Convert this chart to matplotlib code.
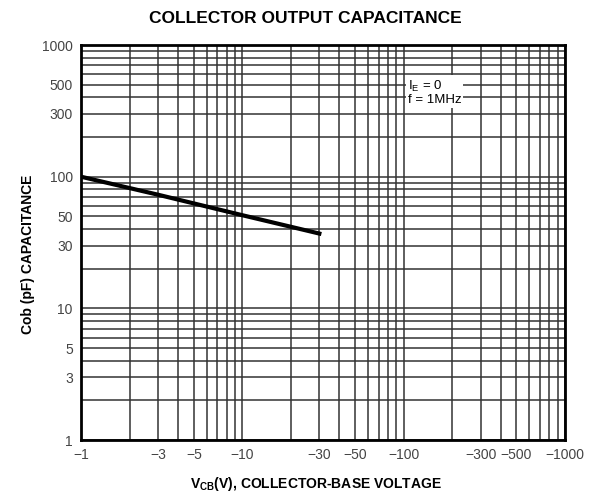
import matplotlib
matplotlib.use("Agg")
import matplotlib.pyplot as plt
from matplotlib.ticker import FixedLocator, LogLocator, NullFormatter, FixedFormatter

plt.rcParams['font.family'] = ['Liberation Sans', 'DejaVu Sans']
plt.rcParams['mathtext.fontset'] = 'custom'
plt.rcParams['mathtext.rm'] = 'Liberation Sans'
plt.rcParams['mathtext.bf'] = 'Liberation Sans:bold'

# data
vcb = [1, 3, 10, 30]
cob = [100, 73, 51, 37]
x_ticks = [1, 3, 5, 10, 30, 50, 100, 300, 500, 1000]
x_labels = ["\u22121", "\u22123", "\u22125", "\u221210", "\u221230", "\u221250", "\u2212100", "\u2212300", "\u2212500", "\u22121000"]
y_ticks = [1, 3, 5, 10, 30, 50, 100, 300, 500, 1000]
y_labels = ["1", "3", "5", "10", "30", "50", "100", "300", "500", "1000"]

fig = plt.figure(figsize=(6.02, 4.95), dpi=100)
ax = fig.add_axes([0.1346, 0.111, 0.804, 0.798])
ax.set_xscale('log')
ax.set_yscale('log')
ax.set_xlim(1, 1000)
ax.set_ylim(1, 1000)

ax.plot(vcb, cob, color='black', lw=3)

ax.xaxis.set_major_locator(FixedLocator(x_ticks))
ax.xaxis.set_major_formatter(FixedFormatter(x_labels))
ax.yaxis.set_major_locator(FixedLocator(y_ticks))
ax.yaxis.set_major_formatter(FixedFormatter(y_labels))
ax.xaxis.set_minor_locator(LogLocator(base=10, subs=range(1, 10), numticks=20))
ax.yaxis.set_minor_locator(LogLocator(base=10, subs=range(1, 10), numticks=20))
ax.xaxis.set_minor_formatter(NullFormatter())
ax.yaxis.set_minor_formatter(NullFormatter())
ax.grid(True, which='both', color='#333333', lw=1.1)
ax.tick_params(which='both', length=0, labelsize=10, colors='#444444', pad=6)
for s in ax.spines.values():
    s.set_linewidth(2)
    s.set_color('black')

ax.text(0.675, 0.915, "I$_\\mathrm{E}$ = 0\nf = 1MHz", transform=ax.transAxes, fontsize=9.5,
        va='top', ha='left', linespacing=1.05,
        bbox=dict(facecolor='white', edgecolor='none', pad=1.5))

fig.text(0.507, 0.962, "COLLECTOR OUTPUT CAPACITANCE", ha='center', va='center',
         fontsize=12.5, fontweight='bold')
fig.text(0.525, 0.022, "V$_\\mathbf{CB}$(V), COLLECTOR-BASE VOLTAGE", ha='center', va='center',
         fontsize=10, fontweight='bold')
ax.set_ylabel("Cob (pF) CAPACITANCE", fontsize=10, fontweight='bold')
ax.yaxis.set_label_coords(-0.095, 0.47)

fig.savefig("out.png", dpi=100)
